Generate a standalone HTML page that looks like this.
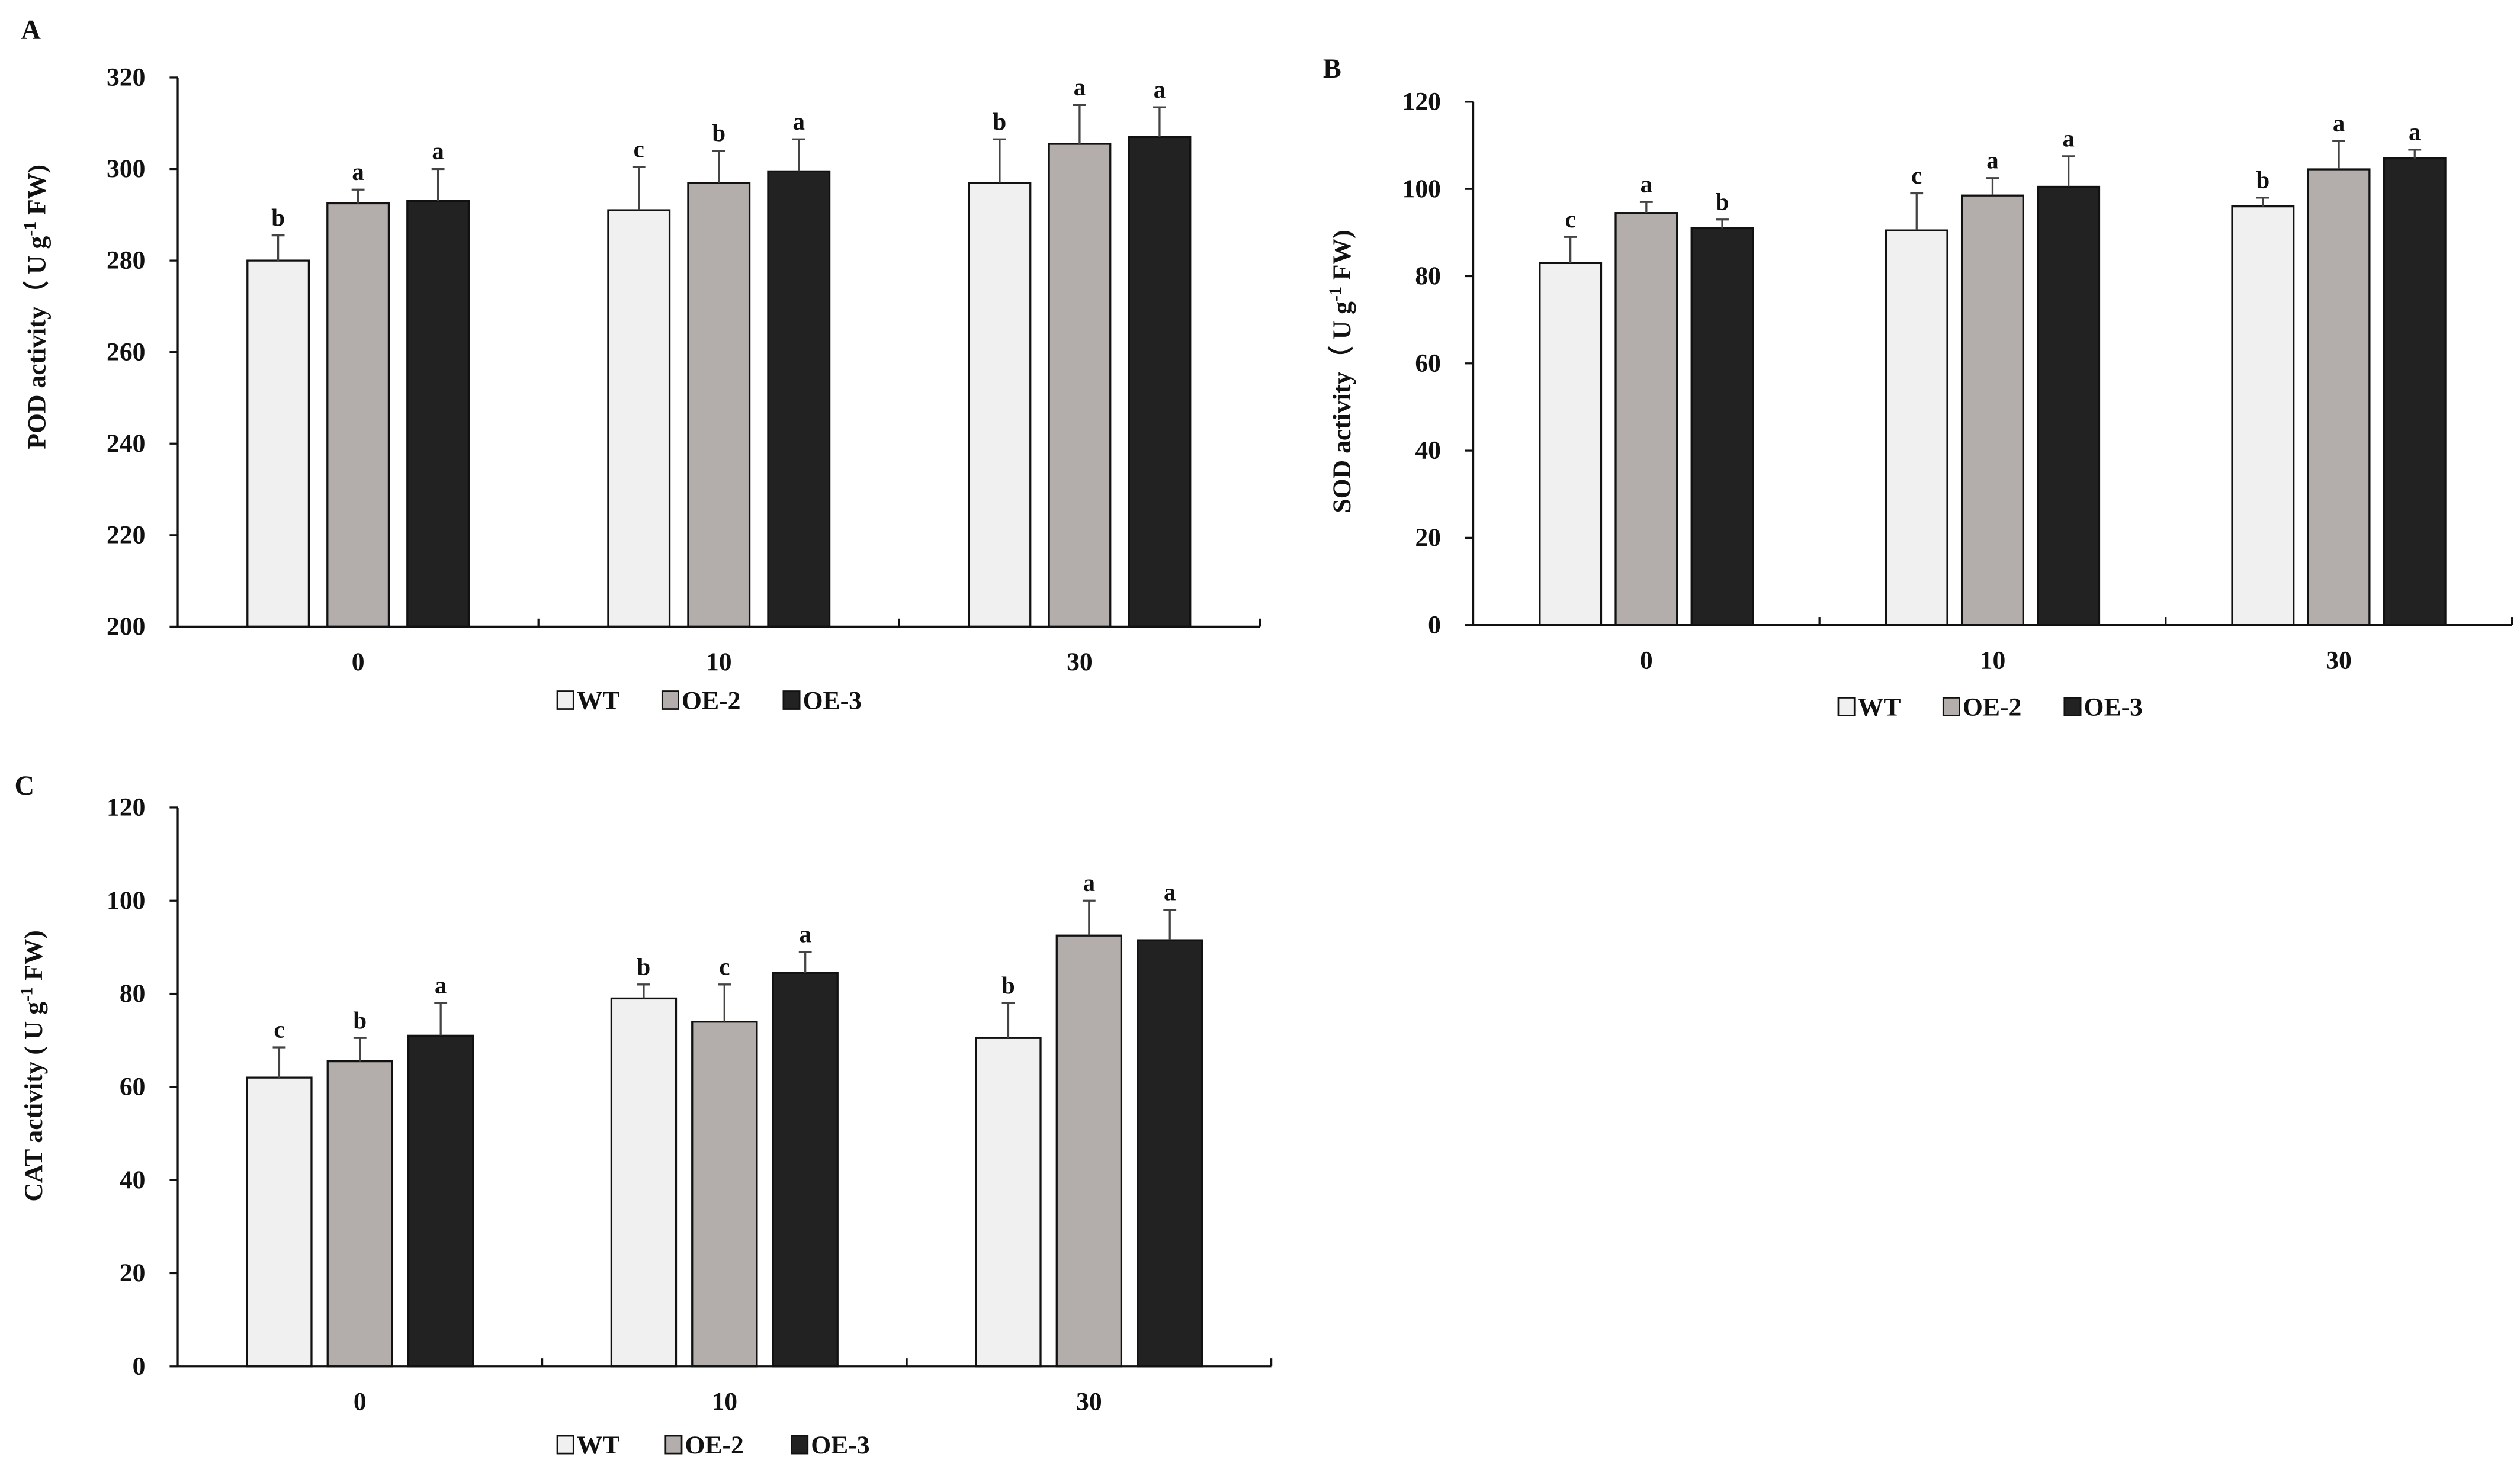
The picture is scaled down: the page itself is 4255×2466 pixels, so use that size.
<!DOCTYPE html>
<html><head><meta charset="utf-8"><style>
html,body{margin:0;padding:0;background:#fff;}
svg{display:block;}
text{font-family:"Liberation Serif",serif;font-weight:bold;fill:#111;}
</style></head><body>
<svg id="fig" xmlns="http://www.w3.org/2000/svg" width="4255" height="2466" viewBox="0 0 1560 904" preserveAspectRatio="none"></svg>
<script>
const categories = ["0","10","30"];
const seriesNames = ["WT","OE-2","OE-3"];
const podValues = [[280,291,297],[292.5,297,305.5],[293,299.5,307]];
const podErrors = [[5.5,9.5,9.5],[3,7,8.5],[7,7,6.5]];
const podLetters = [["b","c","b"],["a","b","a"],["a","a","a"]];
const podTicks = [200,220,240,260,280,300,320];
const sodValues = [[83,90.5,96],[94.5,98.5,104.5],[91,100.5,107]];
const sodErrors = [[6,8.5,2],[2.5,4,6.5],[2,7,2]];
const sodLetters = [["c","c","b"],["a","a","a"],["b","a","a"]];
const sodTicks = [0,20,40,60,80,100,120];
const catValues = [[62,79,70.5],[65.5,74,92.5],[71,84.5,91.5]];
const catErrors = [[6.5,3,7.5],[5,8,7.5],[7,4.5,6.5]];
const catLetters = [["c","b","b"],["b","c","a"],["a","a","a"]];
const catTicks = [0,20,40,60,80,100,120];

const NS="http://www.w3.org/2000/svg";
const svg=document.getElementById('fig');
const fills=["#f0f0f0","#b3aeab","#222222"];
function mk(tag,attrs,parent){const e=document.createElementNS(NS,tag);for(const k in attrs)e.setAttribute(k,attrs[k]);(parent||svg).appendChild(e);return e;}

function chart(cfg){
  const g=mk('g',{});
  
  
  const t0=cfg.ticks[0],t1=cfg.ticks[cfg.ticks.length-1];
  const y=v=>cfg.y0-(v-t0)/(t1-t0)*(cfg.y0-cfg.y1);
  const gw=(cfg.x1-cfg.x0)/categories.length;
  const cx=i=>cfg.x0+gw*(i+0.5);
  // panel letter
  const pl=mk('text',{x:cfg.lx,y:cfg.ly,'font-size':17},g);pl.textContent=cfg.letter;
  
  
  // y axis
  const ya=mk('line',{x1:cfg.x0,y1:cfg.y1,x2:cfg.x0,y2:cfg.y0,stroke:'#111','stroke-width':1.2},g);
  
  
  cfg.ticks.forEach(t=>{
    mk('line',{x1:cfg.x0-5,y1:y(t),x2:cfg.x0,y2:y(t),stroke:'#111','stroke-width':1.2},g);
    const tl=mk('text',{x:cfg.x0-20,y:y(t)+5,'font-size':16,'text-anchor':'end'},g);tl.textContent=t;
    
    
  });
  // bars
  for(let s=0;s<3;s++){for(let c=0;c<3;c++){
    const v=cfg.values[s][c],e=cfg.errors[s][c];
    const bx=cx(c)+(s-1)*cfg.off-cfg.bw/2;
    const r=mk('rect',{x:bx,y:y(v),width:cfg.bw,height:cfg.y0-y(v),fill:fills[s],stroke:'#111','stroke-width':1.2},g);
    
    
    const mx=bx+cfg.bw/2;
    const eb=mk('path',{d:`M${mx},${y(v)}V${y(v+e)}M${mx-4},${y(v+e)}H${mx+4}`,stroke:'#444','stroke-width':1.2,fill:'none'},g);
    
    
    const lt=mk('text',{x:mx,y:y(v+e)-6,'font-size':15,'text-anchor':'middle'},g);lt.textContent=cfg.letters[s][c];
    
    
  }}
  // x axis
  const xa=mk('line',{x1:cfg.x0,y1:cfg.y0,x2:cfg.x1,y2:cfg.y0,stroke:'#111','stroke-width':1.2},g);
  
  
  for(let i=1;i<=categories.length;i++){mk('line',{x1:cfg.x0+gw*i,y1:cfg.y0,x2:cfg.x0+gw*i,y2:cfg.y0-5,stroke:'#111','stroke-width':1.2},g);}
  categories.forEach((c,i)=>{
    const xl=mk('text',{x:cx(i),y:cfg.y0+27,'font-size':16,'text-anchor':'middle'},g);xl.textContent=c;
    
    
  });
  // y label
  const yl=mk('text',{x:0,y:0,'font-size':16,'text-anchor':'middle',transform:`translate(${cfg.ylx},${cfg.yly}) rotate(-90)`},g);
  
  
  yl.appendChild(document.createTextNode(cfg.ytitle+' U g'));
  const sup=mk('tspan',{dy:-6,'font-size':11},yl);sup.textContent='-1';
  const rest=mk('tspan',{dy:6},yl);rest.textContent=' FW)';
  // legend
  const lg=mk('g',{},g);
  
  
  seriesNames.forEach((n,i)=>{
    const bxx=cfg.legX[i];
    const b=mk('rect',{x:bxx,y:cfg.legY-11,width:10,height:11,fill:fills[i],stroke:'#111','stroke-width':1},lg);
    
    
    const lt=mk('text',{x:bxx+12,y:cfg.legY,'font-size':16},lg);lt.textContent=n;
    
    
  });
}
chart({name:'pod-chart',letter:'A',lx:13,ly:24,x0:110,x1:780,y0:388,y1:48,ticks:podTicks,values:podValues,errors:podErrors,letters:podLetters,bw:38,off:49.5,ytitle:'POD activity（',ylx:28,yly:190,legX:[345,410,485],legY:439});
chart({name:'sod-chart',letter:'B',lx:819,ly:48,x0:912,x1:1555,y0:387,y1:63,ticks:sodTicks,values:sodValues,errors:sodErrors,letters:sodLetters,bw:38,off:47,ytitle:'SOD activity（',ylx:836,yly:230,legX:[1138,1203,1278],legY:443});
chart({name:'cat-chart',letter:'C',lx:9,ly:492,x0:110,x1:787,y0:846,y1:500,ticks:catTicks,values:catValues,errors:catErrors,letters:catLetters,bw:40,off:50,ytitle:'CAT activity (',ylx:26,yly:660,legX:[345,412,490],legY:900});
</script>
</body></html>
